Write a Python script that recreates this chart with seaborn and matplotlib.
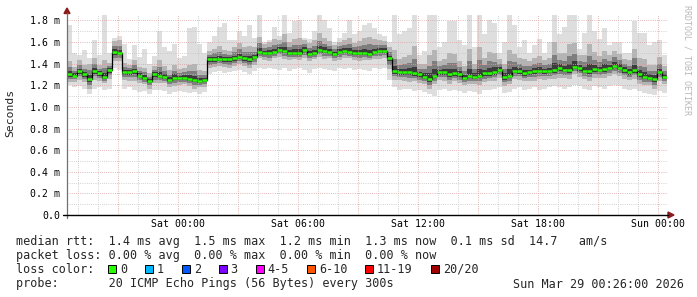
import numpy as np
import pandas as pd
import matplotlib
matplotlib.use("Agg")
import matplotlib.pyplot as plt
import seaborn as sns
from matplotlib.patches import Polygon, Rectangle
from matplotlib.lines import Line2D

# ---------------- data (15-minute steps, values in ms) ----------------
start_time = "2026-03-27 18:26"
end_time = "2026-03-29 00:26"
step_hours = 0.25

rtt_median = [
    1.30, 1.29, 1.33, 1.30, 1.26, 1.33, 1.31, 1.28, 1.34, 1.51,
    1.50, 1.32, 1.32, 1.33, 1.29, 1.27, 1.24, 1.30, 1.29, 1.28,
    1.25, 1.27, 1.27, 1.27, 1.26, 1.25, 1.24, 1.25, 1.44, 1.44,
    1.44, 1.44, 1.44, 1.45, 1.46, 1.45, 1.44, 1.46, 1.51, 1.50,
    1.50, 1.51, 1.53, 1.52, 1.50, 1.50, 1.50, 1.53, 1.49, 1.50,
    1.53, 1.52, 1.51, 1.49, 1.51, 1.52, 1.51, 1.50, 1.50, 1.50,
    1.49, 1.51, 1.52, 1.52, 1.45, 1.33, 1.32, 1.32, 1.32, 1.31,
    1.30, 1.28, 1.26, 1.29, 1.32, 1.32, 1.30, 1.31, 1.30, 1.27,
    1.29, 1.28, 1.29, 1.31, 1.31, 1.32, 1.34, 1.28, 1.29, 1.33,
    1.33, 1.31, 1.32, 1.33, 1.33, 1.33, 1.33, 1.34, 1.36, 1.34,
    1.34, 1.37, 1.36, 1.33, 1.33, 1.35, 1.34, 1.35, 1.36, 1.38,
    1.36, 1.34, 1.32, 1.34, 1.30, 1.28, 1.27, 1.26, 1.32, 1.28,
]

rtt_max = [
    1.76, 1.50, 1.48, 1.53, 1.45, 1.62, 1.48, 1.86, 1.50, 1.64,
    1.66, 1.58, 1.44, 1.57, 1.46, 1.54, 1.40, 1.47, 1.70, 1.55,
    1.52, 1.58, 1.45, 1.47, 1.73, 1.74, 1.58, 1.50, 1.60, 1.66,
    1.74, 1.78, 1.62, 1.62, 1.70, 1.66, 1.76, 1.64, 1.86, 1.60,
    1.62, 1.74, 1.66, 1.86, 1.68, 1.79, 1.80, 1.64, 1.63, 1.70,
    1.86, 1.80, 1.73, 1.60, 1.64, 1.68, 1.80, 1.67, 1.70, 1.76,
    1.78, 1.73, 1.67, 1.66, 1.60, 1.86, 1.67, 1.70, 1.73, 1.86,
    1.48, 1.52, 1.86, 1.85, 1.55, 1.60, 1.79, 1.79, 1.62, 1.57,
    1.86, 1.55, 1.86, 1.67, 1.80, 1.78, 1.50, 1.60, 1.86, 1.76,
    1.55, 1.62, 1.50, 1.57, 1.63, 1.50, 1.60, 1.86, 1.67, 1.74,
    1.86, 1.85, 1.54, 1.68, 1.86, 1.70, 1.63, 1.73, 1.57, 1.60,
    1.60, 1.50, 1.50, 1.79, 1.68, 1.68, 1.57, 1.60, 1.62, 1.48,
]

rtt_min = [
    1.20, 1.18, 1.19, 1.17, 1.12, 1.17, 1.18, 1.16, 1.17, 1.36,
    1.34, 1.17, 1.18, 1.16, 1.14, 1.15, 1.12, 1.16, 1.16, 1.15,
    1.12, 1.14, 1.15, 1.14, 1.13, 1.14, 1.12, 1.14, 1.30, 1.32,
    1.33, 1.31, 1.32, 1.33, 1.34, 1.32, 1.30, 1.33, 1.36, 1.35,
    1.36, 1.35, 1.34, 1.36, 1.33, 1.35, 1.36, 1.34, 1.31, 1.35,
    1.36, 1.35, 1.34, 1.33, 1.36, 1.35, 1.36, 1.34, 1.35, 1.34,
    1.33, 1.36, 1.35, 1.36, 1.25, 1.18, 1.16, 1.17, 1.17, 1.15,
    1.16, 1.14, 1.12, 1.10, 1.16, 1.17, 1.15, 1.16, 1.15, 1.13,
    1.15, 1.14, 1.12, 1.16, 1.16, 1.17, 1.18, 1.13, 1.14, 1.17,
    1.18, 1.16, 1.17, 1.18, 1.16, 1.17, 1.18, 1.19, 1.18, 1.17,
    1.18, 1.20, 1.19, 1.17, 1.16, 1.19, 1.18, 1.17, 1.19, 1.20,
    1.19, 1.17, 1.16, 1.17, 1.15, 1.13, 1.12, 1.11, 1.15, 1.13,
]

# spread of the dense smoke above / below the median
spread_up = [
    0.12, 0.08, 0.10, 0.09, 0.14, 0.12, 0.08, 0.15, 0.07, 0.10,
    0.12, 0.09, 0.07, 0.10, 0.08, 0.09, 0.07, 0.08, 0.14, 0.10,
    0.09, 0.12, 0.08, 0.09, 0.13, 0.15, 0.10, 0.08, 0.08, 0.10,
    0.12, 0.09, 0.08, 0.10, 0.13, 0.10, 0.12, 0.09, 0.14, 0.08,
    0.10, 0.12, 0.09, 0.15, 0.10, 0.13, 0.14, 0.09, 0.10, 0.12,
    0.15, 0.12, 0.10, 0.08, 0.09, 0.10, 0.13, 0.09, 0.11, 0.14,
    0.16, 0.12, 0.10, 0.09, 0.10, 0.20, 0.12, 0.14, 0.16, 0.25,
    0.10, 0.12, 0.22, 0.24, 0.10, 0.12, 0.20, 0.18, 0.12, 0.11,
    0.25, 0.12, 0.26, 0.14, 0.20, 0.18, 0.10, 0.12, 0.24, 0.16,
    0.12, 0.13, 0.10, 0.12, 0.14, 0.10, 0.12, 0.26, 0.14, 0.16,
    0.24, 0.22, 0.12, 0.15, 0.25, 0.16, 0.13, 0.17, 0.12, 0.14,
    0.13, 0.10, 0.11, 0.20, 0.15, 0.16, 0.12, 0.13, 0.14, 0.10,
]
spread_down = [
    0.07, 0.06, 0.08, 0.07, 0.09, 0.08, 0.07, 0.06, 0.08, 0.09,
    0.08, 0.07, 0.08, 0.09, 0.07, 0.06, 0.07, 0.08, 0.07, 0.06,
    0.07, 0.08, 0.07, 0.06, 0.07, 0.08, 0.06, 0.07, 0.08, 0.07,
    0.06, 0.07, 0.08, 0.07, 0.06, 0.07, 0.08, 0.07, 0.06, 0.07,
    0.08, 0.06, 0.07, 0.08, 0.07, 0.06, 0.07, 0.08, 0.07, 0.06,
    0.07, 0.08, 0.06, 0.07, 0.08, 0.07, 0.06, 0.07, 0.08, 0.07,
    0.06, 0.07, 0.08, 0.07, 0.10, 0.08, 0.07, 0.08, 0.09, 0.07,
    0.08, 0.07, 0.09, 0.08, 0.07, 0.08, 0.09, 0.07, 0.08, 0.07,
    0.08, 0.07, 0.09, 0.08, 0.07, 0.08, 0.07, 0.09, 0.08, 0.07,
    0.08, 0.07, 0.08, 0.09, 0.07, 0.08, 0.07, 0.08, 0.09, 0.07,
    0.08, 0.07, 0.08, 0.07, 0.09, 0.08, 0.07, 0.08, 0.07, 0.08,
    0.07, 0.08, 0.07, 0.08, 0.09, 0.08, 0.07, 0.09, 0.08, 0.07,
]

y_ticks = [0.0, 0.2, 0.4, 0.6, 0.8, 1.0, 1.2, 1.4, 1.6, 1.8]
y_tick_labels = ["0.0", "0.2 m", "0.4 m", "0.6 m", "0.8 m", "1.0 m",
                 "1.2 m", "1.4 m", "1.6 m", "1.8 m"]

loss_labels = ["0", "1", "2", "3", "4-5", "6-10", "11-19", "20/20"]
loss_colors = ["#26ff00", "#00b8ff", "#0059ff", "#7e00ff", "#ff00ff",
               "#ff5500", "#ff0000", "#a10000"]

legend_rtt = "median rtt:  1.4 ms avg  1.5 ms max  1.2 ms min  1.3 ms now  0.1 ms sd  14.7   am/s"
legend_loss = "packet loss: 0.00 % avg  0.00 % max  0.00 % min  0.00 % now"
legend_probe = "probe:       20 ICMP Echo Pings (56 Bytes) every 300s"
legend_date = "Sun Mar 29 00:26:00 2026"

# ---------------- figure ----------------
sns.set_style("white")
plt.rcParams["font.family"] = ["DejaVu Sans Mono"]

W, H = 697, 297
fig = plt.figure(figsize=(W / 100, H / 100), dpi=100)
fig.patch.set_facecolor("white")
ax = fig.add_axes([67 / W, 82 / H, 600 / W, 200 / H])
ax.set_facecolor("white")


def px(x, y):
    return x / W, 1 - y / H


med = np.array(rtt_median)
lo = np.array(rtt_min)
hi = np.array(rtt_max)
su = np.array(spread_up)
sd = np.array(spread_down)
t = np.arange(len(med)) * step_hours
te = np.append(t, t[-1] + step_hours)


def ext(a):
    return np.append(a, a[-1])


ax.fill_between(te, ext(lo), ext(hi), step="post", color="#dedede", lw=0, zorder=1)
ax.fill_between(te, ext(med - sd), ext(med + su), step="post", color="#b4b4b4", lw=0, zorder=1.1)
ax.fill_between(te, ext(med - 0.6 * sd), ext(med + 0.55 * su), step="post", color="#7e7e7e", lw=0, zorder=1.2)
ax.fill_between(te, ext(med - 0.3 * sd), ext(med + 0.25 * su), step="post", color="#3c3c3c", lw=0, zorder=1.3)

df = pd.DataFrame({"t": te, "median": ext(med)})
sns.lineplot(data=df, x="t", y="median", drawstyle="steps-post", color="black",
             lw=0.9, ax=ax, zorder=3, legend=False)
ax.hlines(med, t, t + step_hours, color=loss_colors[0], lw=1.8, zorder=4)

# ---------------- axes, ticks, grid ----------------
t0 = pd.Timestamp(start_time)
t1 = pd.Timestamp(end_time)
total_h = (t1 - t0) / pd.Timedelta(hours=1)
ax.set_xlim(0, total_h)
ax.set_ylim(0, 1.85)

hours_minor = pd.date_range(t0.ceil("h"), t1, freq="h")
hours_major = [h for h in hours_minor if h.hour % 3 == 0]
to_h = lambda ts: (ts - t0) / pd.Timedelta(hours=1)
ax.set_xticks([to_h(h) for h in hours_major])
ax.set_xticklabels([h.strftime("%a %H:%M") if h.hour % 6 == 0 else "" for h in hours_major])
ax.set_xticks([to_h(h) for h in hours_minor], minor=True)

ax.set_yticks(y_ticks)
ax.set_yticklabels(y_tick_labels)
ax.set_yticks(np.arange(0.1, 1.85, 0.2), minor=True)

ax.set_xlabel("")
ax.set_ylabel("")
ax.set_axisbelow("line")
dot = (0, (0.72, 1.44))
ax.grid(which="minor", color="#c4c4c4", lw=0.72, linestyle=dot)
ax.grid(which="major", color="#dca0a0", lw=0.72, linestyle=dot)

for s in ax.spines.values():
    s.set_visible(False)

ax.tick_params(axis="y", which="both", length=0, pad=5, labelsize=7.1, labelcolor="black")
ax.tick_params(axis="x", which="major", length=2, width=0.7, color="#333333",
               pad=1.0, labelsize=7.1, labelcolor="black")
ax.tick_params(axis="x", which="minor", length=0)

# axis lines and arrows
fig.add_artist(Line2D([px(67, 0)[0]] * 2, [px(0, 218)[1], px(0, 13)[1]],
                      color="#707070", lw=0.9))
fig.add_artist(Line2D([px(63, 0)[0], px(668, 0)[0]], [px(0, 215)[1]] * 2,
                      color="black", lw=1.0))
fig.add_artist(Polygon([px(668, 212), px(668, 218), px(674, 215)], closed=True,
                       color="#8b1a1a", transform=fig.transFigure))
fig.add_artist(Polygon([px(64, 13.5), px(70, 13.5), px(67, 8)], closed=True,
                       color="#8b1a1a", transform=fig.transFigure))

# labels
fig.text(*px(10, 113), "Seconds", rotation=90, ha="center", va="center", fontsize=8.2)
fig.text(*px(687.5, 60), "RRDTOOL / TOBI OETIKER", rotation=270, ha="center",
         va="center", fontsize=6, color="#b8b8b8")

fs = 8.45
fig.text(*px(16, 245), legend_rtt, fontsize=fs, va="baseline")
fig.text(*px(16, 259), legend_loss, fontsize=fs, va="baseline")
fig.text(*px(16, 273), "loss color:", fontsize=fs, va="baseline")
fig.text(*px(16, 287.5), legend_probe, fontsize=fs, va="baseline")
fig.text(*px(513, 287.5), legend_date, fontsize=fs, va="baseline")

box_x = [108, 145, 182, 218.5, 255.5, 307, 364.5, 431]
for bx, lab, col in zip(box_x, loss_labels, loss_colors):
    fig.add_artist(Rectangle(px(bx, 272.5), 8 / W, 8 / H, transform=fig.transFigure,
                             facecolor=col, edgecolor="black", lw=0.7))
    fig.text(*px(bx + 12, 273), lab, fontsize=fs, va="baseline")

fig.savefig("out.png", dpi=100, facecolor="white")
